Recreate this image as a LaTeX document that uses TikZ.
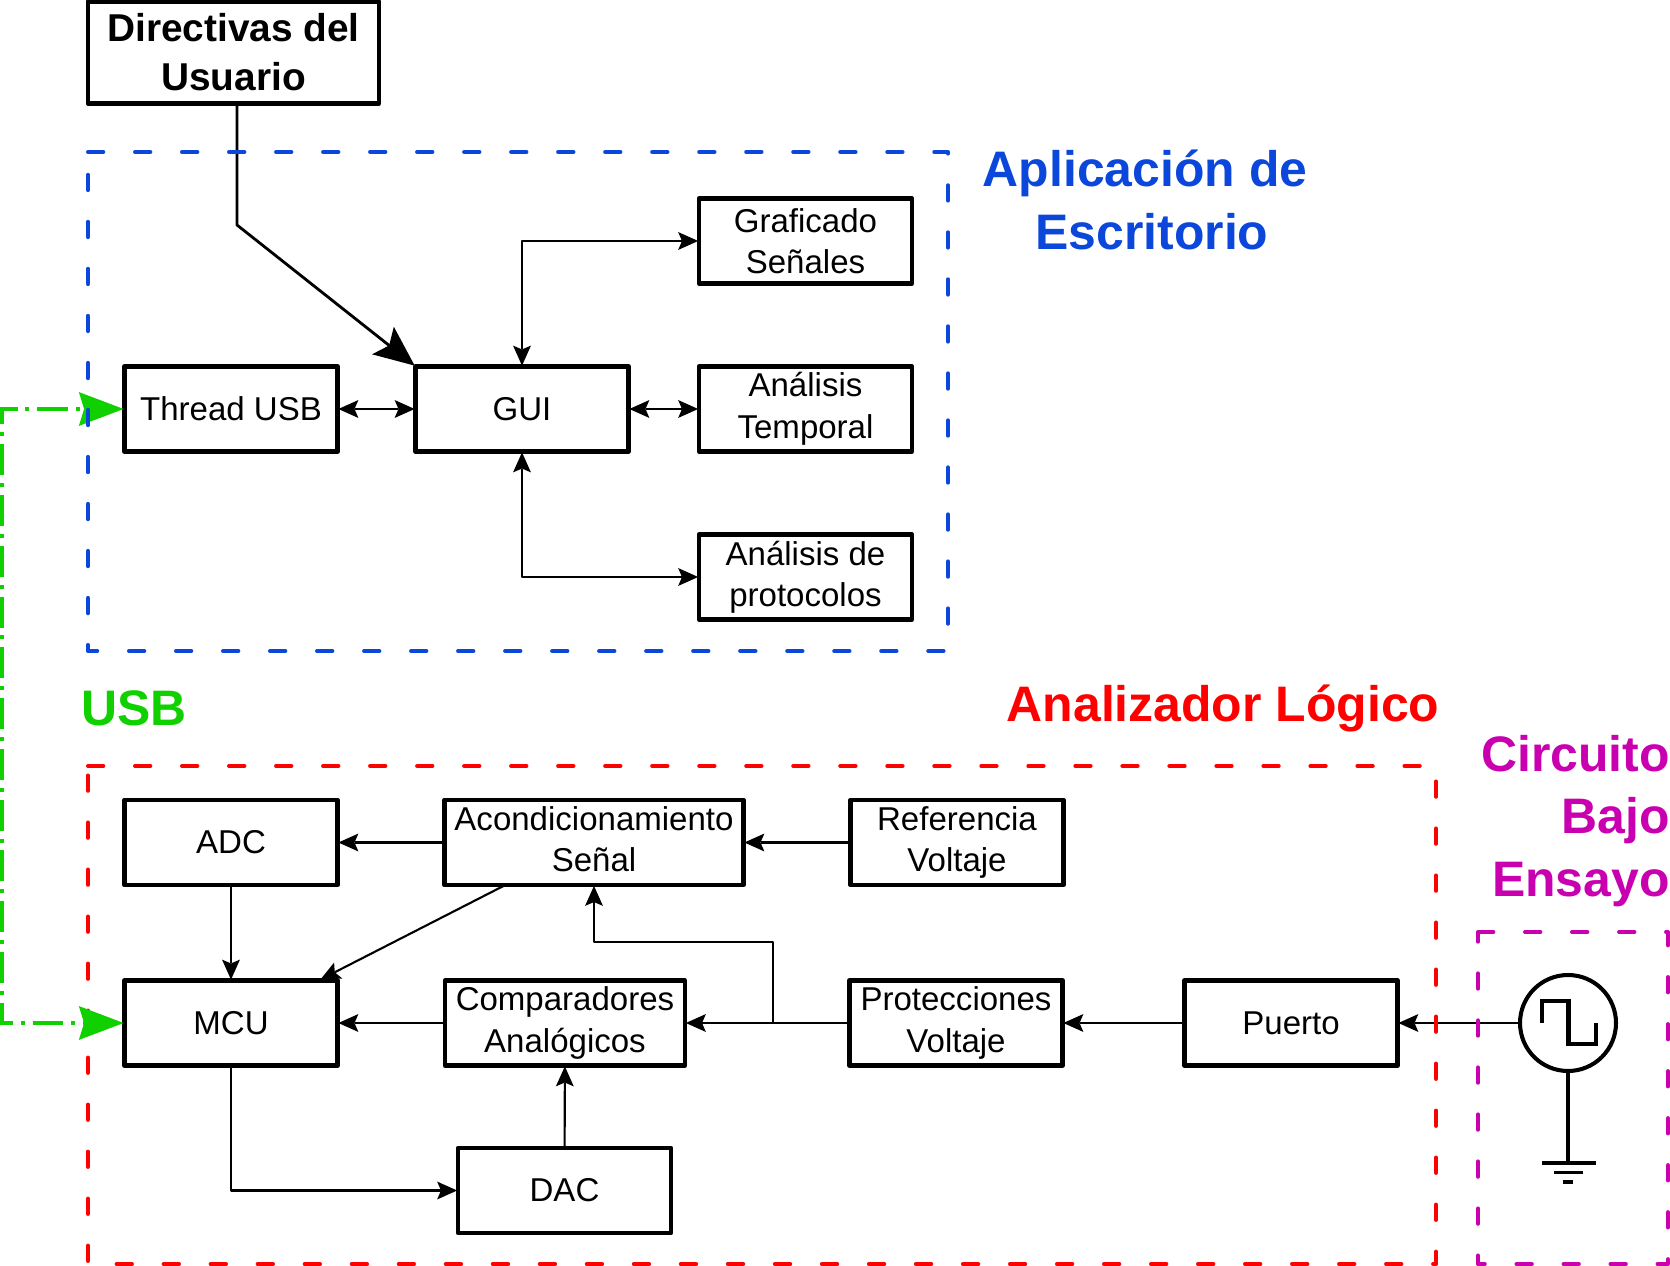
\documentclass[tikz,border=0pt]{standalone}
\usepackage{fontspec}
\setmainfont{Liberation Sans}
\usetikzlibrary{arrows.meta,calc}
\definecolor{azulapp}{HTML}{0B47DB}
\definecolor{verdeusb}{HTML}{11D000}
\definecolor{rojoana}{HTML}{FF0000}
\definecolor{magcto}{HTML}{C900B0}
\tikzset{
	puntita/.tip={Stealth[length=11.4pt,width=10.2pt,inset=2.2pt,line width=0pt]},
	puntaGUI/.tip={Stealth[length=23pt,width=20pt,inset=4.5pt,line width=0pt]},
	puntaUSB/.tip={Stealth[length=25.5pt,width=19.3pt,inset=3pt,line width=0pt]},
	bloque/.style={draw, line width=2.5pt, outer sep=0.5pt, minimum width=4.26cm, minimum height=1.7cm, inner sep=0pt, align=center, font=\fontsize{18.8}{23.6}\selectfont},
	marco/.style={line width=2.3pt, line cap=round, dash pattern=on 8.7pt off 18.06pt},
	titulo/.style={inner sep=0pt, font=\fontsize{28.4}{35.8}\selectfont\bfseries},
	cable/.style={line width=1.2pt, -puntita},
	dcable/.style={line width=1.2pt, puntita-puntita},
}
\begin{document}
\begin{tikzpicture}[x=0.02cm, y=-0.02cm, line join=round]
	\useasboundingbox (0,0) rectangle (1670,1266);
	% bloques de la aplicacion
	\node[bloque, minimum width=5.82cm, minimum height=2.04cm, font=\fontsize{22.1}{27.8}\selectfont\bfseries] (dir) at (233.5,52.5) {Directivas del\\Usuario};
	\node[bloque] (thread) at (231,409) {Thread USB};
	\node[bloque] (gui) at (522,409) {GUI};
	\node[bloque] (graf) at (805.5,241) {Graficado\\Señales};
	\node[bloque] (temp) at (805.5,409) {Análisis\\Temporal};
	\node[bloque] (prot) at (805.5,577) {Análisis de\\protocolos};
	% bloques del analizador
	\node[bloque] (adc) at (231,842.5) {ADC};
	\node[bloque, minimum width=5.98cm] (acond) at (594,842.5) {Acondicionamiento\\Señal\vphantom{j}};
	\node[bloque] (ref) at (957,842.5) {Referencia\\Voltaje};
	\node[bloque] (mcu) at (231,1023) {MCU};
	\node[bloque, minimum width=4.8cm] (comp) at (565,1023) {Comparadores\\Analógicos};
	\node[bloque] (volt) at (956,1023) {Protecciones\\Voltaje};
	\node[bloque] (puerto) at (1291,1023) {Puerto};
	\node[bloque] (dac) at (564.5,1190.5) {DAC};
	% generador
	\node[draw, circle, line width=2.3pt, minimum size=1.92cm, inner sep=0pt] (gen) at (1568,1023) {};
	\coordinate (tierra) at (1568,1163);
	\draw[line width=2.5pt, line join=miter] (1541.7,1023)--(1541.7,1001)--(1568.3,1001)--(1568.3,1044)--(1595.7,1044)--(1595.7,1023);
	\draw[line width=1.9pt] (gen)--(tierra);
	\draw[line width=2pt] (1541.7,1163)--(1595.7,1163) (1554,1172.5)--(1582.7,1172.5) (1563,1182)--(1573,1182);
	% enlaces
	\coordinate (quiebre) at (237,225);
	\draw[line width=1.6pt, -puntaGUI] (quiebre |- dir.south)--(quiebre)--(gui.north west);
	\draw[dcable] (thread)--(gui);
	\draw[dcable] (gui)--(temp);
	\draw[dcable] (gui.north)|-(graf.west);
	\draw[dcable] (gui.south)|-(prot.west);
	\draw[cable] (acond)--(adc);
	\draw[cable] (ref)--(acond);
	\draw[cable] (adc)--(mcu);
	\draw[cable] ($(acond.south west)+(60,0)$)--($(mcu.north east)+(-18,0)$);
	\draw[cable] (comp)--(mcu);
	\draw[cable] (volt)--(comp);
	\coordinate (rama) at (773,1023);
	\draw[cable] (rama)--(773,942)-|(acond.south);
	\draw[cable] (dac)--(comp);
	\draw[cable] (mcu.south)|-(dac.west);
	\draw[cable] (puerto)--(volt);
	\draw[cable] (gen.west)--(puerto.east);
	% marcos
	\draw[marco, rojoana] (88,766)--(1436,766)--(1436,1264)--(88,1264)--cycle;
	\draw[marco, magcto] (1478,932)--(1668,932)--(1668,1264)--(1478,1264)--cycle;
	% usb
	\coordinate (esq) at (2,0);
	\draw[line width=2.3pt, line join=miter, verdeusb, dash pattern=on 17.6pt off 4.5pt on 2.3pt off 4.5pt, dash phase=19.9pt, puntaUSB-puntaUSB] (thread.west)--(esq |- thread.west)--(esq |- mcu.west)--(mcu.west);
	\draw[marco, azulapp] (88,152)--(948,152)--(948,651)--(88,651)--cycle;
	% titulos
	\node[titulo, azulapp, align=center] (tapp) at (1152,200) {Aplicación de\hspace*{0.278em}\\Escritorio};
	\node[titulo, verdeusb] (tusb) at (134,708) {USB};
	\node[titulo, rojoana] (tana) at (1223,708) {Analizador Lógico};
	\node[titulo, magcto, align=right, anchor=east] (tcto) at (1670,821) {Circuito\\Bajo\\Ensayo};
\end{tikzpicture}
\end{document}
